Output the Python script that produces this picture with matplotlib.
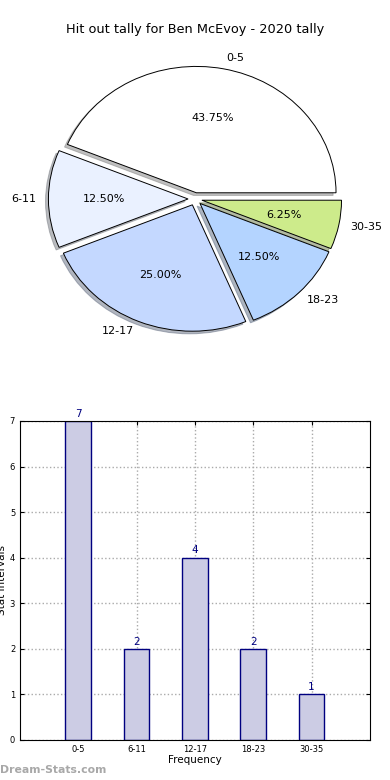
import matplotlib
matplotlib.use("Agg")
import matplotlib.pyplot as plt

# =========================
# Data
# =========================
categories = ['0-5', '6-11', '12-17', '18-23', '30-35']
counts = [7, 2, 4, 2, 1]
pie_colors = ['#ffffff', '#eaf1ff', '#c4d8ff', '#b4d4ff', '#cdeb8b']
title = 'Hit out tally for Ben McEvoy - 2020 tally'

# =========================
# Figure
# =========================
fig = plt.figure(figsize=(3.9, 7.8), dpi=100)

# ---- pie ----
ax1 = fig.add_axes([0.0526, 0.5424, 0.895, 0.405])
wedges, texts, autotexts = ax1.pie(
    counts, labels=categories, colors=pie_colors, autopct='%.2f%%',
    explode=[0.05] * len(counts), labeldistance=1.085,
    shadow=dict(ox=-0.015, oy=-0.015, shade=0.5), startangle=0,
    wedgeprops=dict(edgecolor='black', linewidth=0.7),
    textprops=dict(fontsize=8))
ax1.set_aspect('auto')
ax1.set_xlim(-1.25, 1.25)
ax1.set_ylim(-1.25, 1.25)
fig.text(0.5, 1 - 30 / 780, title, ha='center', va='center', fontsize=9.3)

# ---- bars ----
ax2 = fig.add_axes([0.0513, 0.0513, 0.897, 0.409])
x = list(range(len(categories)))
bars = ax2.bar(x, counts, width=0.44, color='#ccccE4', edgecolor='#000080',
               linewidth=1, zorder=2)
for xi, c in zip(x, counts):
    ax2.text(xi, c + 0.05, str(c), ha='center', va='bottom',
             color='#000080', fontsize=7.5)
ax2.set_xlim(-1, len(categories))
ax2.set_ylim(0, 7)
ax2.set_xticks(x)
ax2.set_xticklabels(categories)
ax2.set_yticks(range(0, 8))
ax2.tick_params(direction='in', top=True, right=True, labelsize=6, length=3)
ax2.grid(True, linestyle=':', color='#aaaaaa', linewidth=1, zorder=0)
ax2.set_axisbelow(True)
ax2.set_xlabel('Frequency', fontsize=7.5, labelpad=1)
ax2.set_ylabel('Stat Intervals', fontsize=7.5, labelpad=2)

fig.text(0.0, 1 - 770 / 780, 'Dream-Stats.com', ha='left', va='center',
         fontsize=7.8, color='#a8a8a8', fontweight='bold')

fig.savefig('out.png', dpi=100)
